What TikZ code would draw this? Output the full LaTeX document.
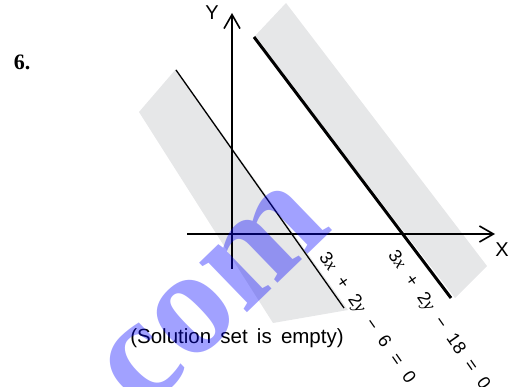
\documentclass[tikz,border=0pt]{standalone}
\usepackage{fontspec}
\setmainfont{Liberation Sans}
\newfontfamily\nserif{Liberation Serif}
\usetikzlibrary{arrows.meta}
\definecolor{bandgray}{RGB}{230,231,232}
\newcommand{\vx}{{\nserif\itshape x}}
\newcommand{\vy}{{\nserif\itshape y}}
\newcommand{\gp}{\hspace{0.62em}}
\begin{document}
\begin{tikzpicture}[x=1pt,y=-1pt,
  axis/.style={line width=1.6pt,-{Straight Barb[length=14pt,width=16pt]}},
  axlbl/.style={inner sep=0pt,font=\fontsize{20}{24}\selectfont},
  eqlbl/.style={inner sep=0pt,anchor=west,rotate=-55,font=\fontsize{18}{22}\selectfont}]
\useasboundingbox (0,0) rectangle (511,387);
\clip (0,0) rectangle (511,387);
% shaded bands
\fill[bandgray] (139,112) -- (176,69) -- (348,310) -- (273,323) -- cycle;
\fill[bandgray] (254,37) -- (286,3) -- (487,266) -- (455,298) -- cycle;
% axes
\coordinate (yb) at (232,269);
\coordinate (yt) at (232,13);
\coordinate (xl) at (187,234);
\coordinate (xr) at (495,234);
\draw[axis] (yb) -- (yt);
\draw[axis] (xl) -- (xr);
\node[axlbl] (Y) at (212,13) {Y};
\node[axlbl] (X) at (502,250) {X};
% lines
\coordinate (a1) at (176,70);
\coordinate (a2) at (344,308);
\draw[line width=1.3pt] (a1) -- (a2);
\coordinate (b1) at (254,37);
\coordinate (b2) at (451,298);
\draw[line width=3pt] (b1) -- (b2);
% equation labels
\node[eqlbl] (l1) at (322,255) {3\vx\gp+\gp2\vy\gp−\gp6\gp=\gp0};
\node[eqlbl] (l2) at (391,253) {3\vx\gp+\gp2\vy\gp−\gp18\gp=\gp0};
% number
\node[inner sep=0pt,font=\nserif\bfseries\fontsize{22}{26}\selectfont] (num) at (22,62) {6.};
% caption
\node[inner sep=0pt,font=\fontsize{20.5}{24}\selectfont] (sol) at (237,338) {(Solution\hspace{0.45em}set\hspace{0.45em}is\hspace{0.45em}empty)};
% watermark
\node[inner sep=0pt,anchor=south east,rotate=44,text=blue,text opacity=0.37,font=\nserif\bfseries\fontsize{150}{150}\selectfont] (wm) at (336,230) {com};
\end{tikzpicture}
\end{document}
